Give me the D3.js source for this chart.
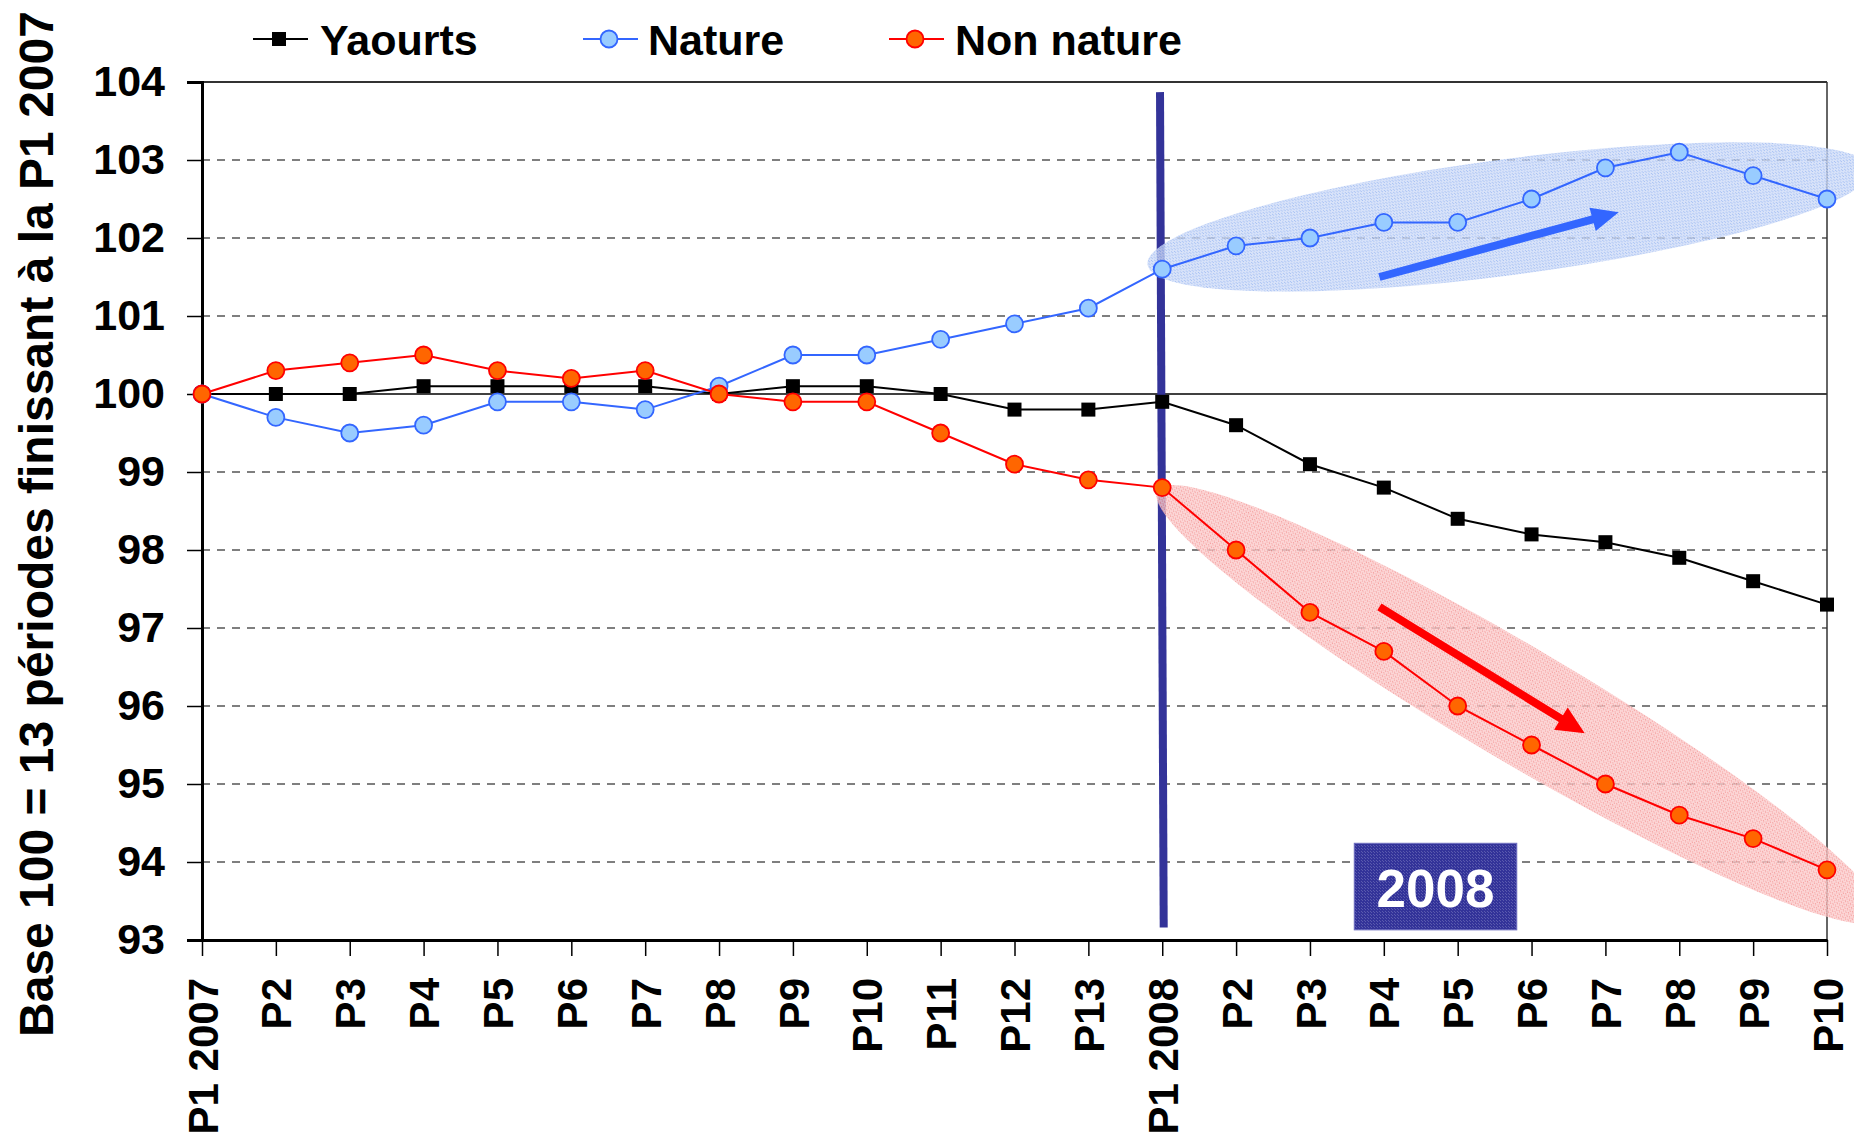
<!DOCTYPE html>
<html>
<head>
<meta charset="utf-8">
<script src="https://cdn.jsdelivr.net/npm/d3@7"></script>
<style>
  html, body { margin: 0; padding: 0; background: #fff; }
  svg { display: block; }
  text { font-family: "Liberation Sans", Arial, sans-serif; font-weight: bold; }
</style>
</head>
<body>
<script>
// ---------------- DATA ----------------
const categories = ["P1 2007","P2","P3","P4","P5","P6","P7","P8","P9","P10","P11","P12","P13",
                    "P1 2008","P2 ","P3 ","P4 ","P5 ","P6 ","P7 ","P8 ","P9 ","P10 "];
const yaourts   = [100,100,100,100.1,100.1,100.1,100.1,100,100.1,100.1,100,99.8,99.8,
                   99.9,99.6,99.1,98.8,98.4,98.2,98.1,97.9,97.6,97.3];
const nature    = [100,99.7,99.5,99.6,99.9,99.9,99.8,100.1,100.5,100.5,100.7,100.9,101.1,
                   101.6,101.9,102.0,102.2,102.2,102.5,102.9,103.1,102.8,102.5];
const nonNature = [100,100.3,100.4,100.5,100.3,100.2,100.3,100,99.9,99.9,99.5,99.1,98.9,
                   98.8,98.0,97.2,96.7,96.0,95.5,95.0,94.6,94.3,93.9];
const yTicks = [93,94,95,96,97,98,99,100,101,102,103,104];
const seriesNames = ["Yaourts","Nature","Non nature"];
const yTitle = "Base 100 = 13 périodes finissant à la P1 2007";
const boxLabel = "2008";

// ---------------- LAYOUT ----------------
const W = 1854, H = 1139;
const L = 202, R = 1827, T = 82, B = 940;

const svg = d3.select("body").append("svg").attr("width", W).attr("height", H);
const defs = svg.append("defs");

function dotPattern(id, bg, dot) {
  const p = defs.append("pattern").attr("id", id).attr("patternUnits", "userSpaceOnUse")
    .attr("width", 3).attr("height", 3);
  p.append("rect").attr("width", 3).attr("height", 3).attr("fill", bg);
  p.append("rect").attr("width", 1).attr("height", 1).attr("fill", dot);
  p.append("rect").attr("x", 2).attr("y", 2).attr("width", 1).attr("height", 1).attr("fill", dot);
}
dotPattern("pBlue", "#cfdcf8", "#8fb0f0");
dotPattern("pRed", "#fbcccc", "#f28a8a");
dotPattern("pBox", "#333399", "#5a5aae");

const x = d3.scalePoint().domain(categories).range([L, R]);
const xi = d3.scaleLinear().domain([0, categories.length - 1]).range([L, R]);
const y = d3.scaleLinear().domain([93, 104]).range([B, T]);

// gridlines
svg.append("g").selectAll("line").data(yTicks.filter(v => v !== 93 && v !== 104)).join("line")
  .attr("x1", L).attr("x2", R).attr("y1", d => y(d)).attr("y2", d => y(d))
  .attr("stroke", d => d === 100 ? "#000" : "#555")
  .attr("stroke-width", 1.5)
  .attr("stroke-dasharray", d => d === 100 ? null : "8,7");

// top & right border
svg.append("line").attr("x1", L).attr("x2", R).attr("y1", T).attr("y2", T)
  .attr("stroke", "#333").attr("stroke-width", 2);
svg.append("line").attr("x1", R).attr("x2", R).attr("y1", T).attr("y2", B)
  .attr("stroke", "#333").attr("stroke-width", 1.5);

// vertical 2008 line
const iv = categories.indexOf("P1 2008");
svg.append("line")
  .attr("x1", xi(iv - 0.03)).attr("y1", y(103.87))
  .attr("x2", xi(iv + 0.02)).attr("y2", y(93.16))
  .attr("stroke", "#333399").attr("stroke-width", 8);

// ellipses
svg.append("ellipse")
  .attr("cx", 0).attr("cy", 0).attr("rx", 365).attr("ry", 58)
  .attr("transform", `translate(${xi(17.7)},${y(102.27)}) rotate(-7.5)`)
  .attr("fill", "url(#pBlue)").attr("opacity", 0.8);
svg.append("ellipse")
  .attr("cx", 0).attr("cy", 0).attr("rx", 420).attr("ry", 57)
  .attr("transform", `translate(${xi(17.83)},${y(96.02)}) rotate(30.6)`)
  .attr("fill", "url(#pRed)").attr("opacity", 0.8);

// arrows
function arrow(x1, y1, x2, y2, w, hl, hw, color) {
  const dx = x2 - x1, dy = y2 - y1, len = Math.hypot(dx, dy);
  const ux = dx / len, uy = dy / len, px = -uy, py = ux;
  const bx = x2 - ux * hl, by = y2 - uy * hl;
  const pts = [
    [x1 + px * w / 2, y1 + py * w / 2],
    [bx + px * w / 2, by + py * w / 2],
    [bx + px * hw, by + py * hw],
    [x2, y2],
    [bx - px * hw, by - py * hw],
    [bx - px * w / 2, by - py * w / 2],
    [x1 - px * w / 2, y1 - py * w / 2]
  ];
  svg.append("polygon").attr("points", pts.map(p => p.join(",")).join(" ")).attr("fill", color);
}
arrow(xi(15.94), y(101.5), xi(19.18), y(102.33), 8, 27, 12, "#3366ff");
arrow(xi(15.94), y(97.27), xi(18.72), y(95.65), 8, 28, 13, "#ff0000");

// 2008 box
const bx0 = xi(15.6), bx1 = xi(17.8), by0 = y(94.24), by1 = y(93.13);
svg.append("rect").attr("x", bx0).attr("y", by0).attr("width", bx1 - bx0).attr("height", by1 - by0)
  .attr("fill", "url(#pBox)").attr("stroke", "#6d6dbf").attr("stroke-width", 1);
svg.append("text").attr("x", (bx0 + bx1) / 2).attr("y", by0 + (by1 - by0) * 0.74)
  .attr("text-anchor", "middle").attr("fill", "#fff").attr("font-size", 53).text(boxLabel);

// axes
const yAxis = svg.append("g").attr("transform", `translate(${L},0)`)
  .call(d3.axisLeft(y).tickValues(yTicks).tickSize(15).tickPadding(22).tickFormat(d3.format("d")));
yAxis.select(".domain").attr("stroke", "#000").attr("stroke-width", 3);
yAxis.selectAll(".tick line").attr("stroke", "#000").attr("stroke-width", 1.5);
yAxis.selectAll(".tick text").attr("font-size", 43).attr("fill", "#000")
  .attr("font-family", "Liberation Sans, Arial, sans-serif").attr("font-weight", "bold");

const xAxis = svg.append("g").attr("transform", `translate(0,${B})`)
  .call(d3.axisBottom(x).tickSize(16).tickSizeOuter(0).tickFormat(d => d.trim()));
xAxis.select(".domain").attr("stroke", "#000").attr("stroke-width", 3);
xAxis.selectAll(".tick line").attr("stroke", "#000").attr("stroke-width", 1.5);
xAxis.selectAll(".tick text")
  .attr("transform", "rotate(-90)")
  .attr("x", -38).attr("y", 0).attr("dy", "0.36em")
  .attr("text-anchor", "end")
  .attr("font-size", 42).attr("fill", "#000")
  .attr("font-family", "Liberation Sans, Arial, sans-serif").attr("font-weight", "bold");

// y title
svg.append("text").attr("transform", `translate(53,1037) rotate(-90)`)
  .attr("text-anchor", "start").attr("font-size", 48).attr("fill", "#000").text(yTitle);

// series
const seriesData = [
  { name: seriesNames[0], values: yaourts,   line: "#000",    stroke: "#000",    fill: "#000",    shape: "square" },
  { name: seriesNames[1], values: nature,    line: "#3366ff", stroke: "#3366ff", fill: "#99ccff", shape: "circle" },
  { name: seriesNames[2], values: nonNature, line: "#ff0000", stroke: "#ff0000", fill: "#ff6600", shape: "circle" }
];
const lineGen = d3.line().x((d, i) => x(categories[i])).y(d => y(d));

seriesData.forEach(s => {
  svg.append("path").datum(s.values).attr("d", lineGen)
    .attr("fill", "none").attr("stroke", s.line).attr("stroke-width", 2);
  const g = svg.append("g");
  if (s.shape === "square") {
    g.selectAll("rect").data(s.values).join("rect")
      .attr("x", (d, i) => x(categories[i]) - 7).attr("y", d => y(d) - 7)
      .attr("width", 14).attr("height", 14).attr("fill", s.fill);
  } else {
    g.selectAll("circle").data(s.values).join("circle")
      .attr("cx", (d, i) => x(categories[i])).attr("cy", d => y(d)).attr("r", 8.5)
      .attr("fill", s.fill).attr("stroke", s.stroke).attr("stroke-width", 1.8);
  }
});

// legend
const legendItems = [
  { s: seriesData[0], x0: 253, tx: 320 },
  { s: seriesData[1], x0: 583, tx: 648 },
  { s: seriesData[2], x0: 889, tx: 955 }
];
const ly = 39;
legendItems.forEach(it => {
  const g = svg.append("g");
  g.append("line").attr("x1", it.x0).attr("x2", it.x0 + 55).attr("y1", ly).attr("y2", ly)
    .attr("stroke", it.s.line).attr("stroke-width", 2);
  if (it.s.shape === "square") {
    g.append("rect").attr("x", it.x0 + 26 - 7).attr("y", ly - 7).attr("width", 14).attr("height", 14)
      .attr("fill", it.s.fill);
  } else {
    g.append("circle").attr("cx", it.x0 + 26).attr("cy", ly).attr("r", 8.5)
      .attr("fill", it.s.fill).attr("stroke", it.s.stroke).attr("stroke-width", 1.8);
  }
  g.append("text").attr("x", it.tx).attr("y", 55).attr("font-size", 43).attr("fill", "#000").text(it.s.name);
});
</script>
</body>
</html>
